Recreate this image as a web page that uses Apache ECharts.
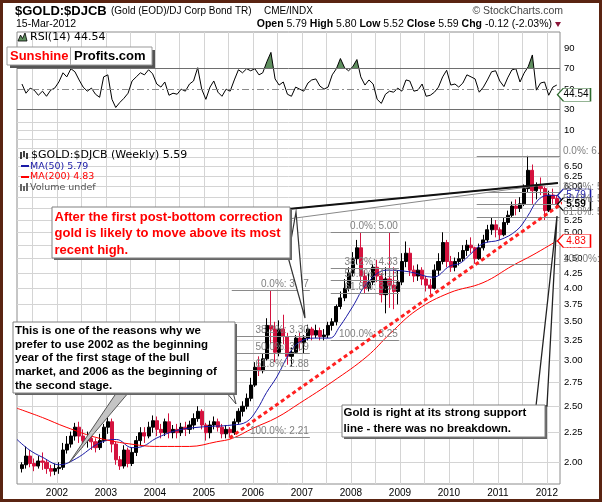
<!DOCTYPE html>
<html><head><meta charset="utf-8">
<script src="https://cdn.jsdelivr.net/npm/echarts@6/dist/echarts.min.js"></script>
<style>html,body{margin:0;padding:0;background:#fff}#c{width:602px;height:502px}</style>
</head><body><div id="c"></div>
<script>
// ---------- DATA ----------
// monthly OHLC of $GOLD:$DJCB, Apr 2001 .. Mar 2012 : [open, close, low, high]
const ohlc = [
 [1.95,1.98,1.92,2.00],[1.98,2.05,1.95,2.13],[2.05,1.99,1.96,2.10],[1.99,1.97,1.93,2.03],[1.97,2.01,1.95,2.05],[2.01,2.00,1.94,2.08],[2.00,1.95,1.91,2.02],[1.95,1.93,1.89,1.98],[1.93,1.95,1.90,1.99],
 [1.95,1.96,1.91,2.00],[1.96,2.10,1.94,2.16],[2.10,2.15,2.07,2.22],[2.15,2.22,2.12,2.26],[2.22,2.30,2.18,2.34],[2.30,2.22,2.16,2.35],[2.22,2.18,2.12,2.28],[2.18,2.20,2.12,2.26],[2.20,2.17,2.10,2.24],[2.17,2.12,2.08,2.20],[2.12,2.18,2.10,2.24],[2.18,2.30,2.16,2.33],
 [2.30,2.35,2.24,2.39],[2.35,2.15,2.08,2.38],[2.15,2.02,1.98,2.17],[2.02,1.97,1.94,2.05],[1.97,2.10,1.95,2.14],[2.10,1.99,1.96,2.12],[1.99,2.08,1.97,2.12],[2.08,2.18,2.05,2.22],[2.18,2.25,2.14,2.30],[2.25,2.22,2.16,2.30],[2.22,2.30,2.20,2.35],[2.30,2.36,2.25,2.41],
 [2.36,2.28,2.22,2.40],[2.28,2.25,2.20,2.33],[2.25,2.35,2.22,2.38],[2.35,2.25,2.20,2.43],[2.25,2.28,2.20,2.32],[2.28,2.25,2.20,2.33],[2.25,2.30,2.22,2.34],[2.30,2.28,2.22,2.35],[2.28,2.32,2.24,2.36],[2.32,2.38,2.28,2.43],[2.38,2.45,2.35,2.50],[2.45,2.32,2.28,2.47],
 [2.32,2.25,2.18,2.34],[2.25,2.32,2.20,2.36],[2.32,2.35,2.28,2.40],[2.35,2.30,2.26,2.38],[2.30,2.24,2.20,2.33],[2.24,2.28,2.20,2.32],[2.28,2.25,2.21,2.30],[2.25,2.35,2.23,2.38],[2.35,2.45,2.33,2.48],[2.45,2.50,2.40,2.55],[2.50,2.58,2.47,2.63],[2.58,2.72,2.55,2.80],
 [2.72,2.92,2.70,2.98],[2.92,2.88,2.82,3.05],[2.88,3.02,2.85,3.09],[3.02,3.45,3.00,3.55],[3.45,3.40,3.20,3.97],[3.40,3.10,2.98,3.50],[3.10,3.40,3.05,3.52],[3.40,3.30,3.20,3.60],[3.30,3.05,2.95,3.35],[3.05,3.10,2.93,3.16],[3.10,3.28,3.08,3.32],[3.28,3.22,3.12,3.35],
 [3.22,3.28,3.09,3.32],[3.28,3.40,3.25,3.46],[3.40,3.32,3.25,3.43],[3.32,3.38,3.28,3.46],[3.38,3.30,3.25,3.42],[3.30,3.32,3.25,3.40],[3.32,3.45,3.28,3.50],[3.45,3.50,3.38,3.55],[3.50,3.72,3.45,3.75],[3.72,3.85,3.68,3.95],[3.85,4.00,3.80,4.15],[4.00,4.25,3.95,4.35],
 [4.25,4.50,4.20,4.62],[4.50,4.70,4.40,4.85],[4.70,4.20,4.10,5.00],[4.20,4.00,3.92,4.30],[4.00,4.10,3.95,4.25],[4.10,4.35,4.05,4.40],[4.35,4.20,4.10,4.48],[4.20,3.90,3.78,4.25],[3.90,4.15,3.62,4.35],[4.15,4.05,3.70,5.00],[4.05,3.95,3.68,4.35],[3.95,4.10,3.75,4.30],
 [4.10,4.45,4.05,4.60],[4.45,4.60,4.35,4.82],[4.60,4.30,4.20,4.70],[4.30,4.20,4.10,4.38],[4.20,4.30,4.12,4.40],[4.30,4.15,4.05,4.35],[4.15,4.05,3.95,4.20],[4.05,4.00,3.90,4.15],[4.00,4.30,3.98,4.40],[4.30,4.45,4.22,4.60],[4.45,4.80,4.40,5.00],[4.80,4.45,4.35,4.85],
 [4.45,4.35,4.27,4.55],[4.35,4.45,4.28,4.52],[4.45,4.50,4.38,4.62],[4.50,4.65,4.45,4.75],[4.65,4.75,4.55,4.85],[4.75,4.70,4.60,4.90],[4.70,4.50,4.41,4.72],[4.50,4.70,4.48,4.78],[4.70,4.85,4.65,4.95],[4.85,5.05,4.80,5.15],[5.05,5.15,4.95,5.30],[5.15,5.05,4.90,5.25],
 [5.05,4.95,4.85,5.10],[4.95,5.20,4.92,5.30],[5.20,5.35,5.15,5.45],[5.35,5.55,5.30,5.65],[5.55,5.50,5.35,5.70],[5.50,5.60,5.42,5.75],[5.60,5.95,5.55,6.05],[5.95,6.40,5.85,6.78],[6.40,5.90,5.60,6.55],[5.90,6.00,5.70,6.10],[6.00,5.95,5.80,6.22],[5.95,5.45,5.25,6.00],
 [5.45,5.80,5.42,5.90],[5.80,5.72,5.60,5.95],[5.72,5.59,5.52,5.80]
];
// RSI(14), same months
const rsi = [
 55,46,51,49,44,48,43,49,51,57,66,62,
 70,67,59,52,48,51,45,42,62,64,40,32,
 37,41,46,58,62,66,64,69,65,55,52,57,
 44,46,45,50,48,55,58,71,50,40,52,58,
 47,43,50,48,59,69,66,70,68,70,64,66,
 77,86,60,54,57,45,43,52,50,48,56,59,
 60,53,50,52,64,70,80,71,68,72,79,62,
 54,59,55,40,36,45,48,47,51,48,59,58,
 48,49,55,43,44,47,52,62,68.5,54,55,52,
 56,64,62,60,47,52,59,67,68,58,52.5,61,
 68.8,70,57,65.6,72,83.5,49,56,57,44,52,54,
 44.54
];
const ma50 = [
 ['2001-03-09',2.19],['2001-06-10',2.10],['2001-09-15',2.04],['2002-01-20',1.98],['2002-05-25',2.03],['2002-11-15',2.16],
 ['2003-03-20',2.19],['2003-07-15',2.12],['2003-10-01',2.13],['2004-01-10',2.20],['2004-06-10',2.27],['2004-11-25',2.30],
 ['2005-08-01',2.32],['2005-11-15',2.35],['2006-01-28',2.46],['2006-04-12',2.64],['2006-06-28',2.81],['2006-10-01',3.09],
 ['2006-12-15',3.23],['2007-04-05',3.28],['2007-07-28',3.28],['2007-10-08',3.43],['2008-01-15',3.72],['2008-05-01',4.08],
 ['2008-09-25',4.30],['2009-03-15',4.27],['2009-09-05',4.18],['2010-01-07',4.37],['2010-03-25',4.42],['2010-06-05',4.57],
 ['2010-09-12',4.78],['2011-01-15',4.85],['2011-05-22',5.04],['2011-08-08',5.32],['2011-10-20',5.66],['2012-01-05',5.79],['2012-03-15',5.79]
];
const ma200 = [
 ['2001-03-09',2.48],['2001-09-15',2.39],['2002-03-10',2.30],['2002-11-15',2.20],['2003-09-10',2.14],['2004-02-05',2.13],
 ['2004-09-15',2.13],['2005-04-05',2.17],['2005-08-01',2.20],['2006-01-01',2.29],['2006-06-28',2.39],['2006-12-15',2.53],
 ['2007-08-20',2.76],['2008-05-01',3.05],['2008-10-20',3.34],['2009-05-08',3.67],['2010-01-07',3.93],['2010-09-12',4.09],
 ['2011-04-22',4.38],['2011-09-20',4.57],['2012-03-15',4.83]
];
const supportLine = [['2005-07-10',2.203],['2012-07-30',5.82]];
const fibLevels = ['0.0%','38.2%','50.0%','61.8%','100.0%'];
const fibSets = [
 {from:'2005-07-27', to:'2007-03-01', values:[3.97,3.30,3.09,2.88,2.21], outside:false},
 {from:'2007-08-04', to:'2008-12-24', values:[5.00,4.33,4.13,3.92,3.25], outside:false},
 {from:'2010-07-27', to:'2012-04-08', values:[6.78,5.87,5.59,5.31,4.40], outside:true}
];
const priceTicks = [2.00,2.25,2.50,2.75,3.00,3.25,3.50,3.75,4.00,4.25,4.50,4.75,5.00,5.25,5.50,5.75,6.00,6.25,6.50,6.75,7.00,7.25,7.50,7.75];
const priceLabels = [2.00,2.25,2.50,2.75,3.00,3.25,3.50,3.75,4.00,4.25,4.50,4.75,5.00,5.25,5.50,5.75,6.00,6.25,6.50,6.75];
const rsiLabels = [10,30,50,70,90];
const rsiOverbought = 70;
const yearLabels = ['2002-01-01','2003-01-01','2004-01-01','2005-01-01','2006-01-01','2007-01-01','2008-01-01','2009-01-01','2010-01-01','2011-01-01','2012-01-01'];
const gridDates = ['2001-07-01','2002-01-01','2002-07-01','2003-01-01','2003-07-01','2004-01-01','2004-07-01','2005-01-01','2005-07-01','2006-01-01','2006-07-01','2007-01-01','2007-07-01','2008-01-01','2008-07-01','2009-01-01','2009-07-01','2010-01-01','2010-07-01','2011-01-01','2011-07-01','2012-01-01'];
const lastClose = 5.59, lastMA50 = 5.79, lastMA200 = 4.83, lastRSI = 44.54;
const X_MIN = '2001-03-09', X_MAX = '2012-04-08';

// ---------- BUILD ----------
const T = s => Date.parse(s + 'T00:00:00Z');
const months = [];
for (let i = 0; i < ohlc.length; i++) {
  const k = 3 + i, y = 2001 + Math.floor(k / 12), m = k % 12 + 1;
  months.push(y + '-' + String(m).padStart(2, '0') + '-15');
}
const candleData = months.map((d, i) => [T(d), ...ohlc[i]]);
const rsiData = months.map((d, i) => [T(d), rsi[i]]);
const toXY = arr => arr.map(p => [T(p[0]), p[1]]);

const FONT = '"Liberation Sans", Arial, sans-serif';
const VFONT = '"DejaVu Sans", Verdana, sans-serif';

// RSI panel geometry
const RSI_TOP = 32, RSI_H = 101, RSI_MIN = 7, RSI_MAX = 106;
const obFrac = (RSI_MAX - rsiOverbought) / (RSI_MAX - RSI_MIN);
const rsiFill = new echarts.graphic.LinearGradient(0, RSI_TOP, 0, RSI_TOP + RSI_H, [
  {offset: 0, color: '#5f8f5f'}, {offset: obFrac, color: '#5f8f5f'},
  {offset: obFrac, color: 'rgba(255,255,255,0)'}, {offset: 1, color: 'rgba(255,255,255,0)'}
], true);

const fibLineData = [];
fibSets.forEach(s => {
  s.values.forEach((v, k) => {
    fibLineData.push([
      {coord: [T(s.from), v], label: {formatter: fibLevels[k] + ': ' + v.toFixed(2),
        position: s.outside ? 'end' : 'insideEndTop', verticalAlign: 'bottom', distance: s.outside ? 3 : 1}},
      {coord: [T(s.to), v]}
    ]);
  });
});

const tagPath = 'path://M0,6 L6,0 L34,0 L34,12 L6,12 Z';
function tag(value, border, textColor, bold) {
  return {coord: [T(X_MAX), value], symbol: tagPath, symbolSize: [33, 13], symbolOffset: [14, 0],
    itemStyle: {color: '#fff', borderColor: border, borderWidth: 1},
    label: {show: true, position: 'inside', offset: [2, 0], formatter: value.toFixed(2), color: textColor,
      fontSize: 10, fontFamily: FONT, fontWeight: bold ? 'bold' : 'normal'}};
}

const option = {
  animation: false,
  backgroundColor: '#fff',
  grid: [
    {left: 17, right: 42, top: RSI_TOP, height: RSI_H, show: false},
    {left: 17, right: 42, top: 32, bottom: 18, show: true, borderColor: '#8c8c8c', borderWidth: 1}
  ],
  xAxis: [
    {type: 'value', gridIndex: 0, min: T(X_MIN), max: T(X_MAX), show: false},
    {type: 'value', gridIndex: 1, min: T(X_MIN), max: T(X_MAX),
      axisLine: {show: false}, axisTick: {show: false, customValues: gridDates.map(T)},
      axisLabel: {customValues: yearLabels.map(T), formatter: v => String(new Date(v).getUTCFullYear()),
        fontSize: 10, fontFamily: FONT, color: '#000', margin: 4},
      splitLine: {show: true, lineStyle: {color: '#d4d4d4', width: 1}}}
  ],
  yAxis: [
    {type: 'value', gridIndex: 0, position: 'right', min: RSI_MIN, max: RSI_MAX,
      axisLine: {show: false}, axisTick: {show: false},
      axisLabel: {customValues: rsiLabels, fontSize: 9.5, fontFamily: FONT, color: '#000', margin: 4},
      splitLine: {show: false}},
    {type: 'log', gridIndex: 1, position: 'right', min: 1.834, max: 11.105, logBase: 10,
      axisLine: {show: false}, axisTick: {show: false, customValues: priceTicks},
      axisLabel: {customValues: priceLabels, formatter: v => Number(v).toFixed(2),
        fontSize: 9.5, fontFamily: FONT, color: '#000', margin: 4},
      splitLine: {show: true, lineStyle: {color: '#d4d4d4', width: 1}}}
  ],
  series: [
    {name: 'rsiFill', type: 'line', xAxisIndex: 0, yAxisIndex: 0, data: rsiData, showSymbol: false,
      lineStyle: {width: 0, opacity: 0}, areaStyle: {opacity: 1, color: rsiFill}, silent: true, z: 1},
    {name: 'RSI', type: 'line', xAxisIndex: 0, yAxisIndex: 0, data: rsiData, showSymbol: false, clip: false,
      lineStyle: {color: '#000', width: 1}, silent: true, z: 3,
      markLine: {symbol: 'none', silent: true, label: {show: false},
        data: [
          {yAxis: 70, lineStyle: {color: '#6e6e6e', width: 1, type: 'solid'}},
          {yAxis: 30, lineStyle: {color: '#6e6e6e', width: 1, type: 'solid'}},
          {yAxis: 50, lineStyle: {color: '#8a8a8a', width: 1, type: [7, 3, 2, 3]}}
        ]},
      markPoint: {silent: true, data: [tag(lastRSI, '#2d6a2d', '#000', false)]}},
    {name: 'price', type: 'candlestick', xAxisIndex: 1, yAxisIndex: 1, data: candleData,
      encode: {x: 0, y: [1, 2, 3, 4]}, barWidth: 3.6,
      itemStyle: {color: '#000', color0: '#d4123e', borderColor: '#000', borderColor0: '#d4123e', borderWidth: 1},
      silent: true, z: 3},
    {name: 'MA(50)', type: 'line', xAxisIndex: 1, yAxisIndex: 1, data: toXY(ma50), showSymbol: false, smooth: 0.4,
      lineStyle: {color: '#1a1aa6', width: 1}, silent: true, z: 4},
    {name: 'MA(200)', type: 'line', xAxisIndex: 1, yAxisIndex: 1, data: toXY(ma200), showSymbol: false, smooth: 0.4,
      lineStyle: {color: '#ff0000', width: 1}, silent: true, z: 4},
    {name: 'support', type: 'line', xAxisIndex: 1, yAxisIndex: 1, data: toXY(supportLine), showSymbol: false, clip: false,
      lineStyle: {color: '#ff2020', width: 3, type: [4, 3]}, silent: true, z: 5,
      markLine: {symbol: 'none', silent: true, precision: 2,
        lineStyle: {color: '#8a8a8a', width: 1, type: 'solid'},
        label: {show: true, color: '#808080', fontSize: 10, fontFamily: FONT},
        data: fibLineData},
      markPoint: {silent: true, data: [
        tag(lastMA50, '#1a1aa6', '#1a1aa6', false),
        tag(lastClose, '#000', '#000', true),
        tag(lastMA200, '#ff0000', '#ff0000', false)
      ]}}
  ],
  graphic: [
    {type: 'text', z: 100, style: {x: 15, y: 11, text: '$GOLD:$DJCB', font: 'bold 13px ' + FONT, fill: '#000', verticalAlign: 'middle'}},
    {type: 'text', z: 100, style: {x: 111, y: 11, text: '(Gold (EOD)/DJ Corp Bond TR)', font: '10px ' + FONT, fill: '#000', verticalAlign: 'middle'}},
    {type: 'text', z: 100, style: {x: 264, y: 11, text: 'CME/INDX', font: '10px ' + FONT, fill: '#000', verticalAlign: 'middle'}},
    {type: 'text', z: 100, style: {x: 563, y: 11, text: '\u00A9 StockCharts.com', font: '10.5px ' + FONT, fill: '#444', align: 'right', verticalAlign: 'middle'}},
    {type: 'text', z: 100, style: {x: 16, y: 24.5, text: '15-Mar-2012', font: '10.5px ' + FONT, fill: '#000', verticalAlign: 'middle'}},
    {type: 'text', z: 100, style: {x: 552, y: 24.5, align: 'right', verticalAlign: 'middle',
      text: '{b|Open} 5.79 {b|High} 5.80 {b|Low} 5.52 {b|Close} 5.59 {b|Chg} -0.12 (-2.03%)',
      fontSize: 10.5, fontFamily: 'Liberation Sans', fill: '#000',
      rich: {b: {fontWeight: 'bold', fontSize: 10.5, fontFamily: 'Liberation Sans', fill: '#000'}}}},
    {type: 'polygon', z: 100, shape: {points: [[555, 22], [561, 22], [558, 27]]}, style: {fill: '#8a1538'}},
    {type: 'polygon', z: 100, shape: {points: [[18, 41], [20.5, 35], [22.5, 38.5], [25, 33], [27, 41]]}, style: {fill: '#5f8f5f', stroke: '#000', lineWidth: 0.8}},
    {type: 'text', z: 100, style: {x: 30, y: 37.5, text: 'RSI(14) 44.54', font: '11px ' + VFONT, fill: '#000', verticalAlign: 'middle'}},
    {type: 'rect', z: 100, shape: {x: 10, y: 50, width: 145, height: 18}, style: {fill: '#555'}},
    {type: 'rect', z: 101, shape: {x: 7, y: 47, width: 145, height: 18}, style: {fill: '#fff', stroke: '#999', lineWidth: 1}},
    {type: 'line', z: 102, shape: {x1: 70.5, y1: 47, x2: 70.5, y2: 65}, style: {stroke: '#aaa', lineWidth: 1}},
    {type: 'text', z: 102, style: {x: 10, y: 56.5, text: 'Sunshine', font: 'bold 13px ' + FONT, fill: '#ff0000', verticalAlign: 'middle'}},
    {type: 'text', z: 102, style: {x: 74, y: 56.5, text: 'Profits.com', font: 'bold 13px ' + FONT, fill: '#000', verticalAlign: 'middle'}},
    {type: 'line', z: 100, shape: {x1: 21, y1: 152, x2: 21, y2: 159}, style: {stroke: '#000', lineWidth: 1.5}},
    {type: 'line', z: 100, shape: {x1: 24, y1: 151, x2: 24, y2: 157}, style: {stroke: '#000', lineWidth: 1.5}},
    {type: 'line', z: 100, shape: {x1: 27, y1: 153, x2: 27, y2: 159}, style: {stroke: '#000', lineWidth: 1.5}},
    {type: 'text', z: 100, style: {x: 31, y: 155.5, text: '$GOLD:$DJCB (Weekly) 5.59', font: '11px ' + VFONT, fill: '#000', verticalAlign: 'middle'}},
    {type: 'line', z: 100, shape: {x1: 21, y1: 166, x2: 29, y2: 166}, style: {stroke: '#1a1aa6', lineWidth: 2}},
    {type: 'text', z: 100, style: {x: 30, y: 166.5, text: 'MA(50) 5.79', font: '9.5px ' + VFONT, fill: '#1a1aa6', verticalAlign: 'middle'}},
    {type: 'line', z: 100, shape: {x1: 21, y1: 177, x2: 29, y2: 177}, style: {stroke: '#ff0000', lineWidth: 2}},
    {type: 'text', z: 100, style: {x: 30, y: 177, text: 'MA(200) 4.83', font: '9.5px ' + VFONT, fill: '#ff0000', verticalAlign: 'middle'}},
    {type: 'rect', z: 100, shape: {x: 20, y: 184, width: 2, height: 7}, style: {fill: '#666'}},
    {type: 'rect', z: 100, shape: {x: 23, y: 186, width: 2, height: 5}, style: {fill: '#666'}},
    {type: 'rect', z: 100, shape: {x: 26, y: 183, width: 2, height: 8}, style: {fill: '#666'}},
    {type: 'text', z: 100, style: {x: 30, y: 187.5, text: 'Volume undef', font: '9.5px ' + VFONT, fill: '#555', verticalAlign: 'middle'}},
    {type: 'polygon', z: 100, shape: {points: [[288, 209], [558, 183], [288, 219]]}, style: {fill: '#fff', stroke: '#888', lineWidth: 1}},
    {type: 'line', z: 101, shape: {x1: 288, y1: 209, x2: 558, y2: 183}, style: {stroke: '#111', lineWidth: 2}},
    {type: 'polygon', z: 100, shape: {points: [[296, 212], [305, 318], [288, 257]]}, style: {fill: '#fff', stroke: '#333', lineWidth: 1.2}},
    {type: 'rect', z: 102, shape: {x: 54, y: 209, width: 238, height: 51}, style: {fill: '#666'}},
    {type: 'rect', z: 103, shape: {x: 52, y: 207, width: 238, height: 51}, style: {fill: '#fff', stroke: '#808080', lineWidth: 1}},
    {type: 'text', z: 104, style: {x: 54.5, y: 208.8, text: 'After the first post-bottom correction\ngold is likely to move above its most\nrecent high.',
      font: 'bold 13px ' + FONT, fill: '#ff0000', lineHeight: 16.5}},
    {type: 'polygon', z: 100, shape: {points: [[117, 392], [129, 392], [69, 463]]}, style: {fill: '#c4c4c4', stroke: '#555', lineWidth: 1}},
    {type: 'polygon', z: 100, shape: {points: [[226, 392], [233, 392], [236, 404]]}, style: {fill: '#fff', stroke: '#444', lineWidth: 1}},
    {type: 'rect', z: 102, shape: {x: 15, y: 324, width: 222, height: 71}, style: {fill: '#666'}},
    {type: 'rect', z: 103, shape: {x: 13, y: 322, width: 222, height: 71}, style: {fill: '#fff', stroke: '#808080', lineWidth: 1}},
    {type: 'text', z: 104, style: {x: 15, y: 323.8, text: 'This is one of the reasons why we\nprefer to use 2002 as the beginning\nyear of the first stage of the bull\nmarket, and 2006 as the beginning of\nthe second stage.',
      font: 'bold 11.5px ' + FONT, fill: '#000', lineHeight: 13.8}},
    {type: 'polygon', z: 100, shape: {points: [[536, 406], [547, 406], [557, 216]]}, style: {fill: '#fff', stroke: '#222', lineWidth: 1.3}},
    {type: 'rect', z: 102, shape: {x: 344, y: 407, width: 203, height: 32}, style: {fill: '#666'}},
    {type: 'rect', z: 103, shape: {x: 342, y: 405, width: 203, height: 32}, style: {fill: '#fff', stroke: '#808080', lineWidth: 1}},
    {type: 'text', z: 104, style: {x: 343.5, y: 405.3, text: 'Gold is right at its strong support\nline - there was no breakdown.',
      font: 'bold 11.5px ' + FONT, fill: '#000', lineHeight: 16}},
    {type: 'rect', z: 110, shape: {x: 1.5, y: 1.5, width: 599, height: 499}, style: {fill: 'none', stroke: '#5a2412', lineWidth: 3}}
  ]
};
const chart = echarts.init(document.getElementById('c'), null, {width: 602, height: 502});
chart.setOption(option);
</script>
</body></html>
